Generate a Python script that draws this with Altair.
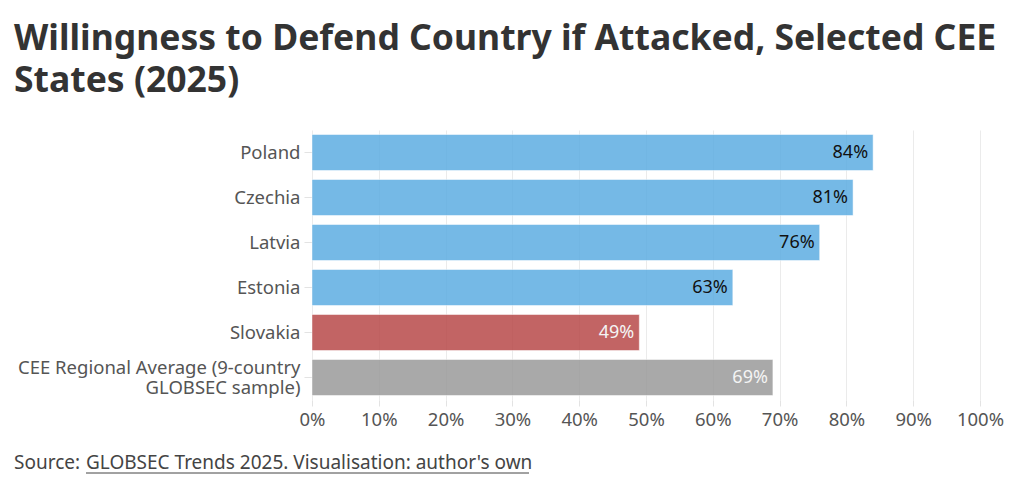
import altair as alt
import pandas as pd

countries = ["Poland", "Czechia", "Latvia", "Estonia", "Slovakia",
             "CEE Regional Average (9-country GLOBSEC sample)"]
values = [84, 81, 76, 63, 49, 69]
groups = ["country", "country", "country", "country", "focus", "average"]
x_ticks = [0, 10, 20, 30, 40, 50, 60, 70, 80, 90, 100]
title_lines = ["Willingness to Defend Country if Attacked, Selected CEE", "States (2025)"]
source_prefix = ["Source: "]
source_link = ["GLOBSEC Trends 2025. Visualisation: author's own"]

df = pd.DataFrame({"country": countries, "value": values, "group": groups})

W, H = 668, 270
FONT = "Noto Sans"
LEFT = -298  # from plot left edge to the page text column

label_expr = ("datum.label == 'CEE Regional Average (9-country GLOBSEC sample)' ? "
              "['CEE Regional Average (9-country', 'GLOBSEC sample)'] : datum.label")

y_enc = alt.Y(
    "country:N", sort=countries, title=None,
    scale=alt.Scale(paddingInner=0.2, paddingOuter=0.1),
    axis=alt.Axis(labelExpr=label_expr, labelFontSize=18.5, labelColor="#555555",
                  labelFont=FONT, ticks=True, tickColor="#e3e3e3", tickSize=8,
                  domain=False, grid=False, labelPadding=4, labelLineHeight=20,
                  labelLimit=400,
                  labelOffset={"condition": {"test": "indexof(datum.value, 'CEE') == 0",
                                             "value": -10}, "value": 0}),
)
x_enc = alt.X(
    "value:Q", title=None, scale=alt.Scale(domain=[0, 100], nice=False),
    axis=alt.Axis(values=x_ticks, labelExpr="datum.value + '%'", grid=True,
                  gridColor="#ebebeb", domain=False, tickColor="#e3e3e3", tickSize=6,
                  labelFontSize=18.5, labelColor="#555555", labelFont=FONT, labelPadding=4,
                  labelFlush=False),
)

base = alt.Chart(df)

bars = base.mark_bar(opacity=0.85, stroke="white", strokeWidth=1, strokeOpacity=0.5).encode(
    x=x_enc, y=y_enc,
    color=alt.Color("group:N", legend=None,
                    scale=alt.Scale(domain=["country", "focus", "average"],
                                    range=["#5DADE2", "#b84949", "#9b9b9b"])),
)

labels = base.transform_calculate(label="datum.value + '%'").mark_text(
    align="right", baseline="middle", dx=-5, fontSize=18, font=FONT
).encode(
    x="value:Q",
    y=alt.Y("country:N", sort=countries),
    text="label:N",
    color=alt.condition("datum.group == 'country'", alt.value("#111111"), alt.value("#f4f4f4")),
)

src1 = alt.Chart(pd.DataFrame({"t": source_prefix})).mark_text(
    align="left", baseline="alphabetic", fontSize=19, font=FONT, color="#444444"
).encode(text="t:N", x=alt.value(LEFT), y=alt.value(339))

src2 = alt.Chart(pd.DataFrame({"t": source_link})).mark_text(
    align="left", baseline="alphabetic", fontSize=19, font=FONT, color="#444444"
).encode(text="t:N", x=alt.value(LEFT + 72), y=alt.value(339))

underline = alt.Chart(pd.DataFrame({"t": source_link})).mark_rule(
    color="#444444", strokeWidth=1
).encode(x=alt.value(LEFT + 72), x2=alt.value(217), y=alt.value(343))

chart = alt.layer(bars, labels, src1, src2, underline).properties(
    width=W, height=H,
    padding={"left": 304, "top": 122, "right": 30, "bottom": 82},
    autosize=alt.AutoSizeParams(type="none"),
    title=alt.TitleParams(text=title_lines, anchor="start", frame="group", fontSize=35.5,
                          fontWeight="bold", color="#333333", font=FONT, lineHeight=42,
                          dx=LEFT, offset=31),
).configure_view(stroke=None)

chart.save("out.html", embed_options={"renderer": "svg", "actions": False})
